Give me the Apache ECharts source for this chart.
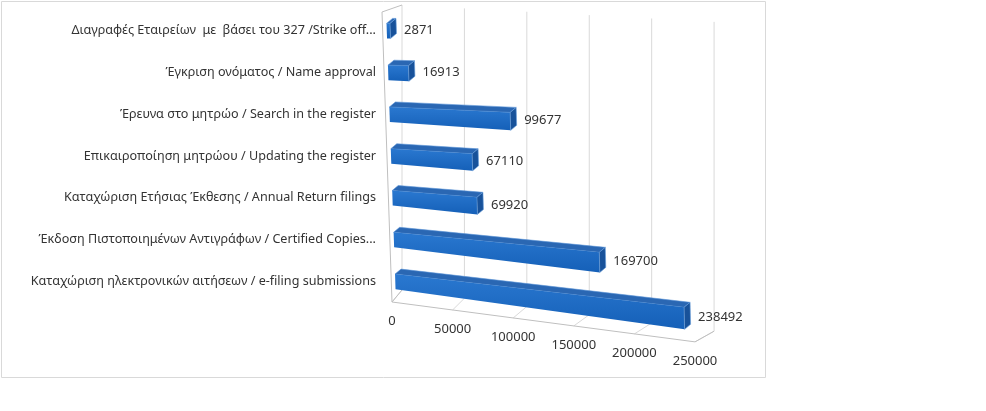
<!DOCTYPE html>
<html>
<head>
<meta charset="utf-8">
<script src="https://cdn.jsdelivr.net/npm/echarts@6/dist/echarts.min.js"></script>
<style>
  html, body { margin: 0; background: #fff; }
  #chart { width: 986px; height: 411px; }
</style>
</head>
<body>
<div id="chart"></div>
<script>
// top to bottom
const categories = [
  "Διαγραφές Εταιρείων  με  βάσει του 327 /Strike off...",
  "Έγκριση ονόματος / Name approval",
  "Έρευνα στο μητρώο / Search in the register",
  "Επικαιροποίηση μητρώου / Updating the register",
  "Καταχώριση Ετήσιας Έκθεσης / Annual Return filings",
  "Έκδοση Πιστοποιημένων Αντιγράφων / Certified Copies...",
  "Καταχώριση ηλεκτρονικών αιτήσεων / e-filing submissions"
];
const values = [2871, 16913, 99677, 67110, 69920, 169700, 238492];
const ticks = [0, 50000, 100000, 150000, 200000, 250000];

const FONT = '"Noto Sans", sans-serif';
const TEXT = "#333333";

const chart = echarts.init(document.getElementById("chart"));

// fake perspective for the front plane (bars)
function front(x, y) {
  return [x + (y - 302) * 0.034, y + y * 0.00042 * (x - 392)];
}

function renderBar(params, api) {
  const v = api.value(0);
  const i = api.value(1);
  const p0 = api.coord([0, i]);
  const p1 = api.coord([v, i]);
  const h = 7.5;
  const x0 = p0[0] + 4, x1 = p1[0] + 4, yc = p0[1];
  const grow = 0.018 * (x1 - x0);
  const tl = front(x0, yc - h), tr = front(x1, yc - h);
  const br = front(x1, yc + h), bl = front(x0, yc + h);
  br[1] += grow;
  const d = [6, -5];
  const add = (p) => [p[0] + d[0], p[1] + d[1]];
  return {
    type: "group",
    children: [
      {
        type: "polygon",
        shape: { points: [tl, tr, add(tr), add(tl)] },
        style: { fill: "#2a67b3", stroke: "#5b93d6", lineWidth: 0.6 }
      },
      {
        type: "polygon",
        shape: { points: [tl, tr, br, bl] },
        style: {
          fill: new echarts.graphic.LinearGradient(0, 0, 0, 1, [
            { offset: 0, color: "#2a78d0" },
            { offset: 1, color: "#1560b8" }
          ])
        }
      },
      {
        type: "polygon",
        shape: { points: [tr, add(tr), add(br), br] },
        style: { fill: "#18529a", stroke: "#6a9fdc", lineWidth: 0.6 }
      },
      {
        type: "text",
        style: {
          text: String(v),
          x: tr[0] + d[0] + 8,
          y: (tr[1] + br[1]) / 2 - 1,
          fill: TEXT,
          fontSize: 13,
          fontFamily: FONT,
          align: "left",
          verticalAlign: "middle"
        }
      }
    ]
  };
}

function renderFrame(params, api) {
  const v = api.value(0);
  const left = api.coord([0, 0])[0];
  const xf = api.coord([v, 0])[0];
  const yf = 302 + 0.1316 * (xf - left);
  const xb = left + 10 + (xf - left) * 1.03;
  const ybTop = 5 + 0.054 * (xb - left - 10);
  const ybBot = 290 + 0.132 * (xb - left - 10);
  const grid = { stroke: "#d9d9d9", lineWidth: 1, fill: "none" };
  const edge = { stroke: "#bfbfbf", lineWidth: 1, fill: "none" };
  const children = [
    { type: "line", shape: { x1: xb, y1: ybTop, x2: xb, y2: ybBot }, style: grid },
    { type: "line", shape: { x1: xb, y1: ybBot, x2: xf, y2: yf }, style: grid },
    {
      type: "text",
      style: {
        text: String(v),
        x: xf, y: yf + 19,
        fill: TEXT, fontSize: 13, fontFamily: FONT,
        align: "center", verticalAlign: "middle"
      }
    }
  ];
  if (params.dataIndex === 0) {
    // side wall
    children.push(
      { type: "polyline", shape: { points: [[xf, yf], [xf - 10, 12], [xb, ybTop]] }, style: edge },
      { type: "line", shape: { x1: xf, y1: yf, x2: xb, y2: ybBot }, style: edge }
    );
  }
  if (params.dataIndex === ticks.length - 1) {
    // floor front edge
    children.push(
      { type: "polyline", shape: { points: [[left, 302], [xf, yf], [xb, ybBot]] }, style: edge }
    );
  }
  return { type: "group", children: children };
}

chart.setOption({
  animation: false,
  grid: { left: 392, right: 291, top: 10, bottom: 109 },
  graphic: [
    {
      type: "rect",
      shape: { x: 1.5, y: 1.5, width: 764, height: 376 },
      style: { fill: "none", stroke: "#d9d9d9", lineWidth: 1 },
      silent: true
    }
  ],
  xAxis: {
    type: "value",
    min: 0,
    max: 250000,
    interval: 50000,
    axisLine: { show: false },
    axisTick: { show: false },
    axisLabel: { show: false },
    splitLine: { show: false }
  },
  yAxis: {
    type: "category",
    inverse: true,
    data: categories,
    axisLine: { show: false },
    axisTick: { show: false },
    axisLabel: { margin: 16, color: TEXT, fontSize: 12.6, fontFamily: FONT }
  },
  series: [
    {
      type: "custom",
      renderItem: renderFrame,
      data: ticks.map((t) => [t, 0]),
      encode: { x: 0, y: 1 },
      silent: true,
      z: 1
    },
    {
      type: "custom",
      renderItem: renderBar,
      data: values.map((v, i) => [v, i]),
      encode: { x: 0, y: 1 },
      z: 2
    }
  ]
});
</script>
</body>
</html>
